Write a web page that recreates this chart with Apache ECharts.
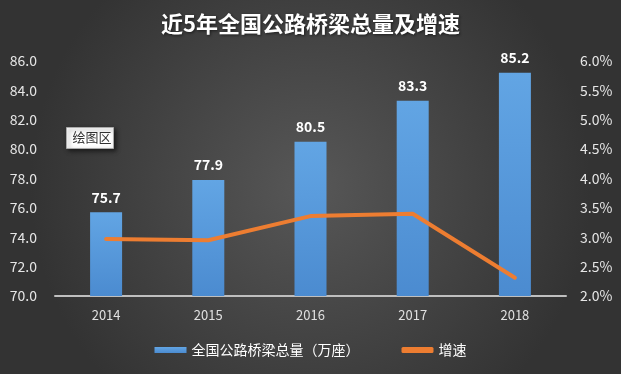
<!DOCTYPE html>
<html><head><meta charset="utf-8">
<script src="https://cdn.jsdelivr.net/npm/echarts@6/dist/echarts.min.js"></script>
<style>html,body{margin:0;padding:0;}#c{width:621px;height:374px;}</style>
</head><body><div id="c"></div>
<script>
var categories = ['2014', '2015', '2016', '2017', '2018'];
var bridgeTotals = [75.7, 77.9, 80.5, 83.3, 85.2];
var growthRates = [2.97, 2.95, 3.36, 3.40, 2.31];
var leftTicks = [70, 72, 74, 76, 78, 80, 82, 84, 86];
var rightTicks = [2.0, 2.5, 3.0, 3.5, 4.0, 4.5, 5.0, 5.5, 6.0];

var chart = echarts.init(document.getElementById('c'));
var font = '"Noto Sans CJK SC", "Noto Sans", sans-serif';
chart.setOption({
  backgroundColor: {
    type: 'radial', x: 0.5, y: 0.5, r: 0.75,
    colorStops: [{offset: 0, color: '#575757'}, {offset: 1, color: '#333333'}]
  },
  animation: false,
  title: {
    text: '近5年全国公路桥梁总量及增速',
    left: 'center', top: 8,
    textStyle: {color: '#ffffff', fontSize: 22, fontWeight: 'bold', fontFamily: font,
      textShadowColor: 'rgba(0,0,0,0.6)', textShadowBlur: 3, textShadowOffsetX: 1, textShadowOffsetY: 1}
  },
  grid: {left: 55, right: 55, top: 61, bottom: 78},
  legend: {
    bottom: 12, left: 'center', itemGap: 42, itemWidth: 32, itemHeight: 6,
    textStyle: {color: '#ffffff', fontSize: 14, fontFamily: font},
    data: [
      {name: '全国公路桥梁总量（万座）', icon: 'rect'},
      {name: '增速', icon: 'roundRect', itemStyle: {color: '#ed7d31'}}
    ]
  },
  xAxis: {
    type: 'category', data: categories,
    axisLine: {lineStyle: {color: '#bfbfbf', width: 2}},
    axisTick: {show: false},
    axisLabel: {color: '#e0e0e0', fontSize: 13, margin: 13, fontFamily: font}
  },
  yAxis: [{
    type: 'value', min: leftTicks[0], max: leftTicks[leftTicks.length - 1], interval: 2,
    splitLine: {show: false}, axisLine: {show: false}, axisTick: {show: false},
    axisLabel: {color: '#e6e6e6', fontSize: 14, margin: 18, fontFamily: font,
      formatter: function (v) { return v.toFixed(1); }}
  }, {
    type: 'value', min: rightTicks[0], max: rightTicks[rightTicks.length - 1], interval: 0.5,
    splitLine: {show: false}, axisLine: {show: false}, axisTick: {show: false},
    axisLabel: {color: '#e6e6e6', fontSize: 14, margin: 14, align: 'left', fontFamily: font,
      formatter: function (v) { return v.toFixed(1) + '%'; }}
  }],
  series: [{
    name: '全国公路桥梁总量（万座）', type: 'bar', data: bridgeTotals, barWidth: 32,
    itemStyle: {color: {type: 'linear', x: 0, y: 0, x2: 0, y2: 1,
      colorStops: [{offset: 0, color: '#62a5e4'}, {offset: 1, color: '#4b8bd0'}]}},
    label: {show: true, position: 'top', distance: 8, color: '#ffffff', fontSize: 14, fontWeight: 'bold', fontFamily: font,
      formatter: function (p) { return p.value.toFixed(1); }}
  }, {
    name: '增速', type: 'line', yAxisIndex: 1, data: growthRates,
    symbol: 'none', lineStyle: {color: '#ed7d31', width: 4, cap: 'round', join: 'round'},
    itemStyle: {color: '#ed7d31'}
  }],
  graphic: [{
    type: 'group', left: 66, top: 127,
    children: [{
      type: 'rect', shape: {x: 0, y: 0, width: 47, height: 21},
      style: {fill: '#ffffff', stroke: '#aaaaaa', lineWidth: 1, shadowBlur: 4, shadowColor: 'rgba(0,0,0,0.5)', shadowOffsetX: 2, shadowOffsetY: 2}
    }, {
      type: 'text', x: 6, y: 3,
      style: {text: '绘图区', fill: '#333333', fontSize: 13, fontFamily: font}
    }]
  }]
});
</script></body></html>
